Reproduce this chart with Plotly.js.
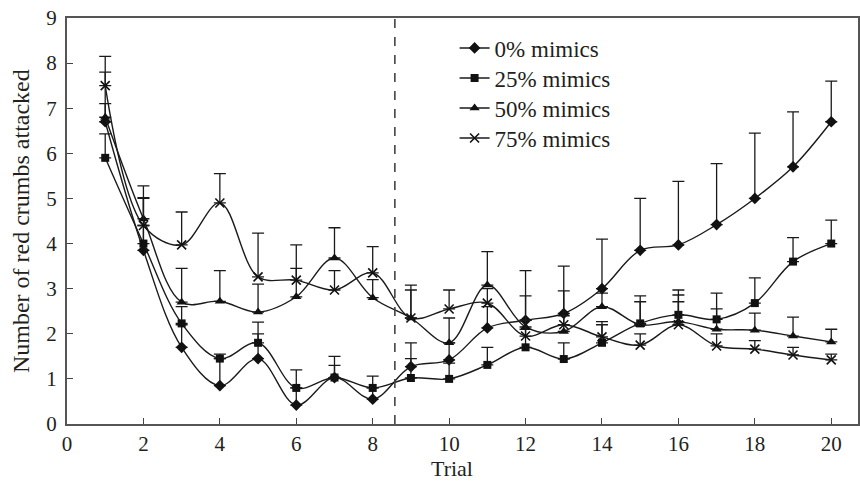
<!DOCTYPE html>
<html>
<head>
<meta charset="utf-8">
<script src="https://cdn.plot.ly/plotly-3.0.1.min.js"></script>
<style>html,body{margin:0;padding:0;background:#fff;}#chart{width:860px;height:484px;}</style>
</head>
<body>
<div id="chart"></div>
<script>
var trials = [1,2,3,4,5,6,7,8,9,10,11,12,13,14,15,16,17,18,19,20];

var mean0  = [6.7, 3.85, 1.7, 0.85, 1.45, 0.42, 1.03, 0.55, 1.27, 1.42, 2.13, 2.3, 2.45, 3.0, 3.85, 3.97, 4.42, 5.0, 5.7, 6.7];
var upper0 = [7.1, 5.0, 2.2, 1.45, 2.0, 0.8, 1.5, 0.8, 1.8, 1.8, 2.6, 3.4, 3.5, 4.1, 5.0, 5.38, 5.77, 6.45, 6.92, 7.6];

var mean25  = [5.9, 4.0, 2.23, 1.45, 1.8, 0.8, 1.03, 0.8, 1.02, 1.0, 1.31, 1.7, 1.44, 1.8, 2.23, 2.42, 2.32, 2.68, 3.6, 4.0];
var upper25 = [6.43, 4.4, 2.6, 1.55, 2.26, 1.2, 1.3, 1.06, 1.45, 1.35, 1.7, 2.1, 1.8, 2.27, 2.84, 2.97, 2.9, 3.24, 4.13, 4.52];

var mean50  = [6.8, 4.55, 2.7, 2.72, 2.48, 2.82, 3.68, 2.8, 2.35, 1.8, 3.08, 2.15, 2.05, 2.6, 2.2, 2.27, 2.1, 2.08, 1.95, 1.82];
var upper50 = [7.8, 5.28, 3.45, 3.4, 3.1, 3.45, 4.35, 3.2, 3.08, 2.35, 3.82, 2.84, 2.95, 2.9, 2.71, 2.86, 2.55, 2.46, 2.37, 2.1];

var mean75  = [7.5, 4.4, 3.97, 4.9, 3.26, 3.19, 2.97, 3.35, 2.35, 2.55, 2.68, 1.95, 2.2, 1.93, 1.75, 2.2, 1.73, 1.66, 1.53, 1.42];
var upper75 = [8.15, 5.02, 4.7, 5.55, 4.23, 3.97, 3.4, 3.93, 2.97, 2.97, 3.0, 2.3, 2.4, 2.2, 2.0, 2.71, 2.0, 1.85, 1.7, 1.55];

var seriesNames = ['0% mimics', '25% mimics', '50% mimics', '75% mimics'];
var xTickVals = [0,2,4,6,8,10,12,14,16,18,20];
var yTickVals = [0,1,2,3,4,5,6,7,8,9];
var switchTrial = 8.58;

var FONT = 'Liberation Serif';
var INK = '#231f20';

function diff(u, m){ return u.map(function(v,i){ return Math.max(0, v - m[i]); }); }

var symbols = ['diamond', 'square', 'triangle-up', 'x-thin-open'];
var sizes = [9, 8, 9, 9];
var means = [mean0, mean25, mean50, mean75];
var uppers = [upper0, upper25, upper50, upper75];
var legendIds = ['legend', 'legend2', 'legend3', 'legend4'];

var traces = means.map(function(m, k){
  return {
    x: trials, y: m, name: seriesNames[k], type: 'scatter', mode: 'lines+markers',
    legend: legendIds[k],
    line: {color: '#1a1a1a', width: 1.4, shape: 'spline', smoothing: 1},
    marker: {symbol: symbols[k], size: sizes[k], color: '#111', line: {color: '#111', width: k === 3 ? 1.6 : 0}},
    error_y: {type: 'data', symmetric: false, array: diff(uppers[k], m), arrayminus: m.map(function(){return 0;}),
              color: '#1a1a1a', thickness: 1.3, width: 6}
  };
});

function leg(yp){
  return {x: 0.49, y: yp, xanchor: 'left', yanchor: 'middle', bgcolor: 'rgba(0,0,0,0)',
          font: {family: FONT, size: 23, color: INK}, itemwidth: 30, tracegroupgap: 0};
}

var layout = {
  width: 860, height: 484,
  margin: {l: 67, r: 2, t: 18, b: 60},
  paper_bgcolor: '#fff', plot_bgcolor: '#fff',
  font: {family: FONT, color: INK},
  showlegend: true,
  legend: leg((424-48)/406),
  legend2: leg((424-78)/406),
  legend3: leg((424-108)/406),
  legend4: leg((424-138)/406),
  xaxis: {range: [0, 20.7], tickvals: xTickVals, ticktext: xTickVals.map(String), ticks: 'inside', ticklen: 6,
          tickcolor: '#444', showline: true, linecolor: '#555', linewidth: 2, mirror: true, showgrid: false,
          zeroline: false, tickfont: {family: FONT, size: 21, color: INK}},
  yaxis: {range: [0, 9], tickvals: yTickVals, ticktext: yTickVals.map(String), ticks: 'inside', ticklen: 6,
          tickcolor: '#444', showline: true, linecolor: '#555', linewidth: 2, mirror: true, showgrid: false,
          zeroline: false, ticklabelstandoff: 4, tickfont: {family: FONT, size: 21, color: INK}},
  shapes: [{type: 'line', xref: 'x', yref: 'y', x0: switchTrial, x1: switchTrial, y0: 0, y1: 9,
            line: {color: '#444', width: 1.6, dash: 'dash'}}],
  annotations: [
    {text: 'Trial', xref: 'paper', yref: 'paper', x: 0.487, y: -0.074, xanchor: 'center', yanchor: 'top',
     showarrow: false, font: {family: FONT, size: 22, color: INK}},
    {text: 'Number of red crumbs attacked', xref: 'paper', yref: 'paper', x: -0.058, y: 0.5, xanchor: 'center', yanchor: 'middle',
     textangle: -90, showarrow: false, font: {family: FONT, size: 24, color: INK}}
  ]
};

Plotly.newPlot('chart', traces, layout, {displayModeBar: false, staticPlot: true});
</script>
</body>
</html>
